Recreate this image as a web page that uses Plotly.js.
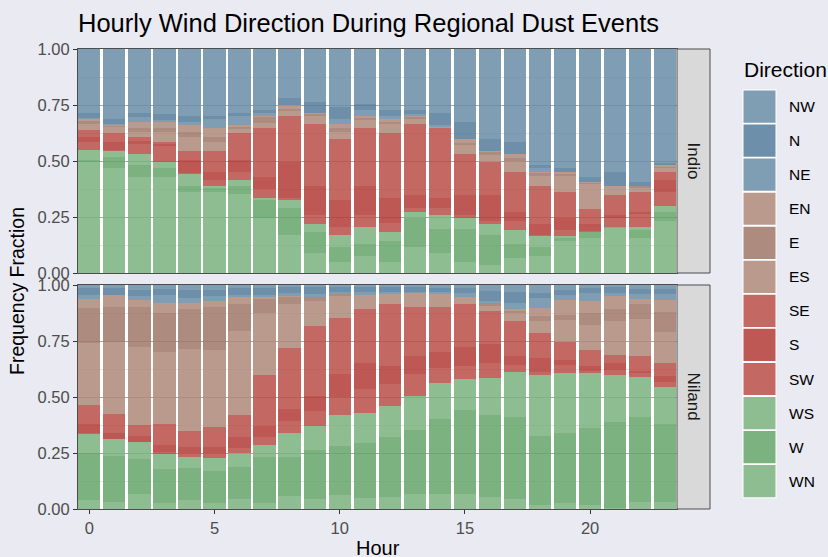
<!DOCTYPE html>
<html>
<head>
<meta charset="utf-8">
<script src="https://cdn.plot.ly/plotly-3.0.1.min.js"></script>
<style>html,body{margin:0;padding:0;background:#EAEAF2;}</style>
</head>
<body>
<div id="chart" style="width:828px;height:557px;"></div>
<script>
// ---------- DATA ----------
const hours = [0,1,2,3,4,5,6,7,8,9,10,11,12,13,14,15,16,17,18,19,20,21,22,23];
const xTicks = [0,5,10,15,20];
const yTicks = [0,0.25,0.5,0.75,1];
const yTickText = ['0.00','0.25','0.50','0.75','1.00'];
const directions = ['NW','N','NE','EN','E','ES','SE','S','SW','WS','W','WN'];
const stations = ['Indio','Niland'];

// Indio
const indioWN = [.494,.470,.430,.430,.363,.360,.351,.247,.170,.088,.051,.077,.051,.118,.088,.051,.036,.065,.077,.143,.158,.200,.155,.232];
const indioW  = [.010,.049,.052,.037,.027,.020,.039,.079,.119,.094,.067,.051,.092,.129,.108,.145,.134,.063,.039,.015,.024,.007,.037,.042];
const indioWS = [.044,.026,.051,.027,.050,.010,.025,.010,.037,.037,.052,.079,.039,.027,.063,.051,.049,.064,.051,.009,.000,.000,.015,.025];
const indioSW = [.038,.003,.045,.075,.005,.025,.037,.039,.010,.040,.037,.052,.040,.015,.030,.012,.013,.040,.003,.025,.005,.040,.055,.064];
const indioS  = [.023,.038,.010,.005,.059,.037,.052,.052,.161,.131,.119,.131,.114,.059,.047,.089,.116,.042,.049,.055,.032,.012,.012,.052];
const indioSE = [.029,.039,.021,.012,.041,.093,.121,.222,.205,.274,.272,.259,.288,.316,.313,.183,.146,.178,.171,.116,.067,.089,.089,.037];
const indioES = [.026,.026,.019,.042,.064,.041,.020,.020,.020,.035,.030,.035,.040,.025,.003,.040,.035,.050,.045,.070,.110,.042,.015,.015];
const indioE  = [.015,.006,.021,.021,.019,.023,.008,.027,.010,.010,.021,.010,.010,.008,.001,.010,.010,.010,.010,.010,.006,.000,.012,.008];
const indioEN = [.009,.004,.024,.024,.033,.040,.008,.006,.020,.007,.015,.008,.014,.005,.001,.017,.006,.019,.007,.009,.006,.000,.000,.007];
const indioNE = [.005,.002,.025,.010,.012,.039,.041,.011,.000,.000,.023,.026,.015,.010,.005,.000,.000,.000,.015,.000,.000,.000,.000,.000];
const indioN  = [.022,.026,.015,.025,.030,.014,.011,.015,.030,.049,.055,.025,.026,.016,.054,.078,.053,.055,.015,.015,.022,.062,.015,.008];
const indioNW = [.285,.311,.287,.292,.297,.298,.287,.272,.218,.235,.258,.247,.271,.272,.287,.324,.402,.414,.518,.533,.570,.548,.595,.510];

// Niland
const nilandWN = [.040,.033,.067,.028,.040,.028,.045,.028,.058,.043,.062,.048,.055,.067,.067,.067,.055,.043,.018,.028,.018,.005,.033,.033];
const nilandW  = [.211,.205,.156,.149,.145,.143,.144,.203,.176,.220,.221,.247,.268,.286,.333,.375,.365,.369,.308,.313,.345,.382,.379,.346];
const nilandWS = [.084,.073,.078,.067,.049,.058,.062,.055,.107,.109,.137,.135,.137,.151,.164,.138,.166,.201,.272,.265,.246,.211,.176,.164];
const nilandSW = [.005,.003,.000,.012,.017,.020,.023,.037,.053,.067,.081,.106,.098,.097,.064,.058,.064,.030,.015,.037,.005,.023,.021,.025];
const nilandS  = [.039,.027,.025,.030,.027,.029,.049,.049,.051,.065,.102,.117,.080,.082,.074,.087,.087,.040,.060,.022,.024,.032,.009,.026];
const nilandSE = [.085,.082,.049,.093,.072,.090,.097,.226,.275,.313,.251,.240,.277,.217,.198,.190,.148,.158,.114,.082,.072,.033,.065,.056];
const nilandES = [.276,.324,.350,.323,.363,.342,.376,.278,.195,.113,.097,.064,.045,.066,.058,.033,.020,.033,.054,.097,.111,.155,.165,.142];
const nilandE  = [.159,.156,.178,.174,.178,.193,.119,.060,.030,.018,.009,.000,.000,.000,.000,.000,.013,.008,.021,.022,.055,.050,.067,.087];
const nilandEN = [.039,.052,.030,.045,.030,.027,.030,.009,.006,.000,.000,.000,.000,.000,.000,.000,.000,.009,.037,.067,.053,.060,.022,.054];
const nilandNE = [.018,.000,.018,.034,.019,.021,.010,.010,.015,.012,.010,.010,.010,.005,.010,.015,.010,.027,.041,.022,.034,.012,.022,.027];
const nilandN  = [.030,.030,.027,.026,.038,.027,.030,.030,.025,.030,.020,.025,.020,.020,.020,.025,.045,.052,.026,.023,.022,.027,.021,.021];
const nilandNW = [.014,.015,.022,.019,.022,.022,.015,.015,.009,.010,.010,.008,.010,.009,.012,.012,.027,.030,.034,.022,.015,.010,.020,.019];

// ---------- STYLE ----------
const dirColors = {
  NW:'#688CA6', N:'#537B9A', NE:'#688CA6',
  EN:'#AD8879', E:'#9F7767', ES:'#AD8879',
  SE:'#BA4D49', S:'#B13B36', SW:'#BA4D49',
  WS:'#79B17C', W:'#64A468', WN:'#79B17C'
};
const barOpacity = 0.85;
const FONT = 'Liberation Sans, Arial, Helvetica, sans-serif';
const TICK_SIZE = 16.5;

const stationData = {
  Indio: {NW:indioNW,N:indioN,NE:indioNE,EN:indioEN,E:indioE,ES:indioES,SE:indioSE,S:indioS,SW:indioSW,WS:indioWS,W:indioW,WN:indioWN},
  Niland:{NW:nilandNW,N:nilandN,NE:nilandNE,EN:nilandEN,E:nilandE,ES:nilandES,SE:nilandSE,S:nilandS,SW:nilandSW,WS:nilandWS,W:nilandW,WN:nilandWN}
};
const stationAxes = {Indio:['x2','y2'], Niland:['x','y']};

// geometry helpers (pixel -> paper)
const L = 78, R = 677, T = 49, B = 509;
const px = p => (p - L) / (R - L);
const py = p => (B - p) / (B - T);

const traces = [];
stations.forEach(st => {
  directions.slice().reverse().forEach(d => {
    traces.push({
      type:'bar', x:hours, y:stationData[st][d],
      xaxis:stationAxes[st][0], yaxis:stationAxes[st][1],
      marker:{color:dirColors[d], opacity:barOpacity, line:{width:0}},
      name:d, showlegend:false, hoverinfo:'x+y+name'
    });
  });
});

const yAxisCommon = {
  range:[0,1], tickvals:yTicks, ticktext:yTickText, ticks:'outside', ticklen:4, tickcolor:'#333333',
  tickfont:{family:FONT, size:TICK_SIZE, color:'#4d4d4d'},
  showgrid:true, gridcolor:'#a9a9a9', gridwidth:1,
  minor:{dtick:0.125, tick0:0, showgrid:true, gridcolor:'#d4d4d4', gridwidth:0.6, ticks:''},
  showline:true, mirror:true, linecolor:'#4d4d4d', linewidth:1, zeroline:false, fixedrange:true
};
const xAxisCommon = {
  range:[-0.45, 23.47], showgrid:false, zeroline:false,
  showline:true, mirror:true, linecolor:'#4d4d4d', linewidth:1, fixedrange:true
};

const shapes = [];
const annotations = [];
[['Indio',273,49],['Niland',509,285]].forEach(([name,b,t]) => {
  shapes.push({type:'rect', xref:'paper', yref:'paper', x0:px(677), x1:px(710), y0:py(b), y1:py(t),
    fillcolor:'#D9D9D9', line:{color:'#4d4d4d', width:1}, layer:'above'});
  annotations.push({xref:'paper', yref:'paper', x:px(693.5), y:py((b+t)/2), text:name, showarrow:false,
    textangle:90, font:{family:FONT, size:17, color:'#1a1a1a'}, xanchor:'center', yanchor:'middle'});
});
annotations.push({xref:'paper', yref:'paper', x:px(742), y:py(70), text:'Direction', showarrow:false,
  xanchor:'left', yanchor:'middle', font:{family:FONT, size:21, color:'#000000'}});
const keyTop = 90.5, keyPitch = 34.05, keyH = 32.2, keyX0 = 743.5, keyX1 = 775.5;
shapes.push({type:'rect', xref:'paper', yref:'paper', x0:px(keyX0-1), x1:px(keyX1+1),
  y0:py(keyTop + keyPitch*11 + keyH + 1), y1:py(keyTop-1), fillcolor:'#ffffff', line:{width:0}, layer:'above'});
directions.forEach((d,i) => {
  const t = keyTop + keyPitch*i;
  shapes.push({type:'rect', xref:'paper', yref:'paper', x0:px(keyX0), x1:px(keyX1), y0:py(t+keyH), y1:py(t),
    fillcolor:dirColors[d], opacity:barOpacity, line:{width:0}, layer:'above'});
  annotations.push({xref:'paper', yref:'paper', x:px(787), y:py(t+keyH/2), text:d, showarrow:false,
    xanchor:'left', yanchor:'middle', font:{family:FONT, size:15.5, color:'#000000'}});
});
annotations.push({xref:'paper', yref:'paper', x:px(76), y:py(23), text:'Hourly Wind Direction During Regional Dust Events',
  showarrow:false, xanchor:'left', yanchor:'middle', font:{family:FONT, size:25.5, color:'#000000'}});
annotations.push({xref:'paper', yref:'paper', x:px(17), y:py(291), text:'Frequency Fraction', textangle:-90,
  showarrow:false, xanchor:'center', yanchor:'middle', font:{family:FONT, size:19.5, color:'#000000'}});
annotations.push({xref:'paper', yref:'paper', x:px(377.5), y:py(548), text:'Hour',
  showarrow:false, xanchor:'center', yanchor:'middle', font:{family:FONT, size:20, color:'#000000'}});

const layout = {
  width:828, height:557,
  margin:{l:L, r:828-R, t:T, b:557-B, pad:0},
  paper_bgcolor:'#EAEAF2', plot_bgcolor:'#ffffff',
  barmode:'stack', bargap:0.11,
  showlegend:false,
  font:{family:FONT},
  xaxis:Object.assign({}, xAxisCommon, {anchor:'y', tickvals:xTicks, ticks:'outside', ticklen:4, tickcolor:'#333333',
    tickfont:{family:FONT, size:TICK_SIZE, color:'#4d4d4d'}}),
  xaxis2:Object.assign({}, xAxisCommon, {anchor:'y2', matches:'x', showticklabels:false, ticks:''}),
  yaxis:Object.assign({}, yAxisCommon, {domain:[0, py(285)], anchor:'x'}),
  yaxis2:Object.assign({}, yAxisCommon, {domain:[py(273), 1], anchor:'x2'}),
  shapes:shapes, annotations:annotations
};

Plotly.newPlot('chart', traces, layout, {displayModeBar:false, staticPlot:true});
</script>
</body>
</html>
